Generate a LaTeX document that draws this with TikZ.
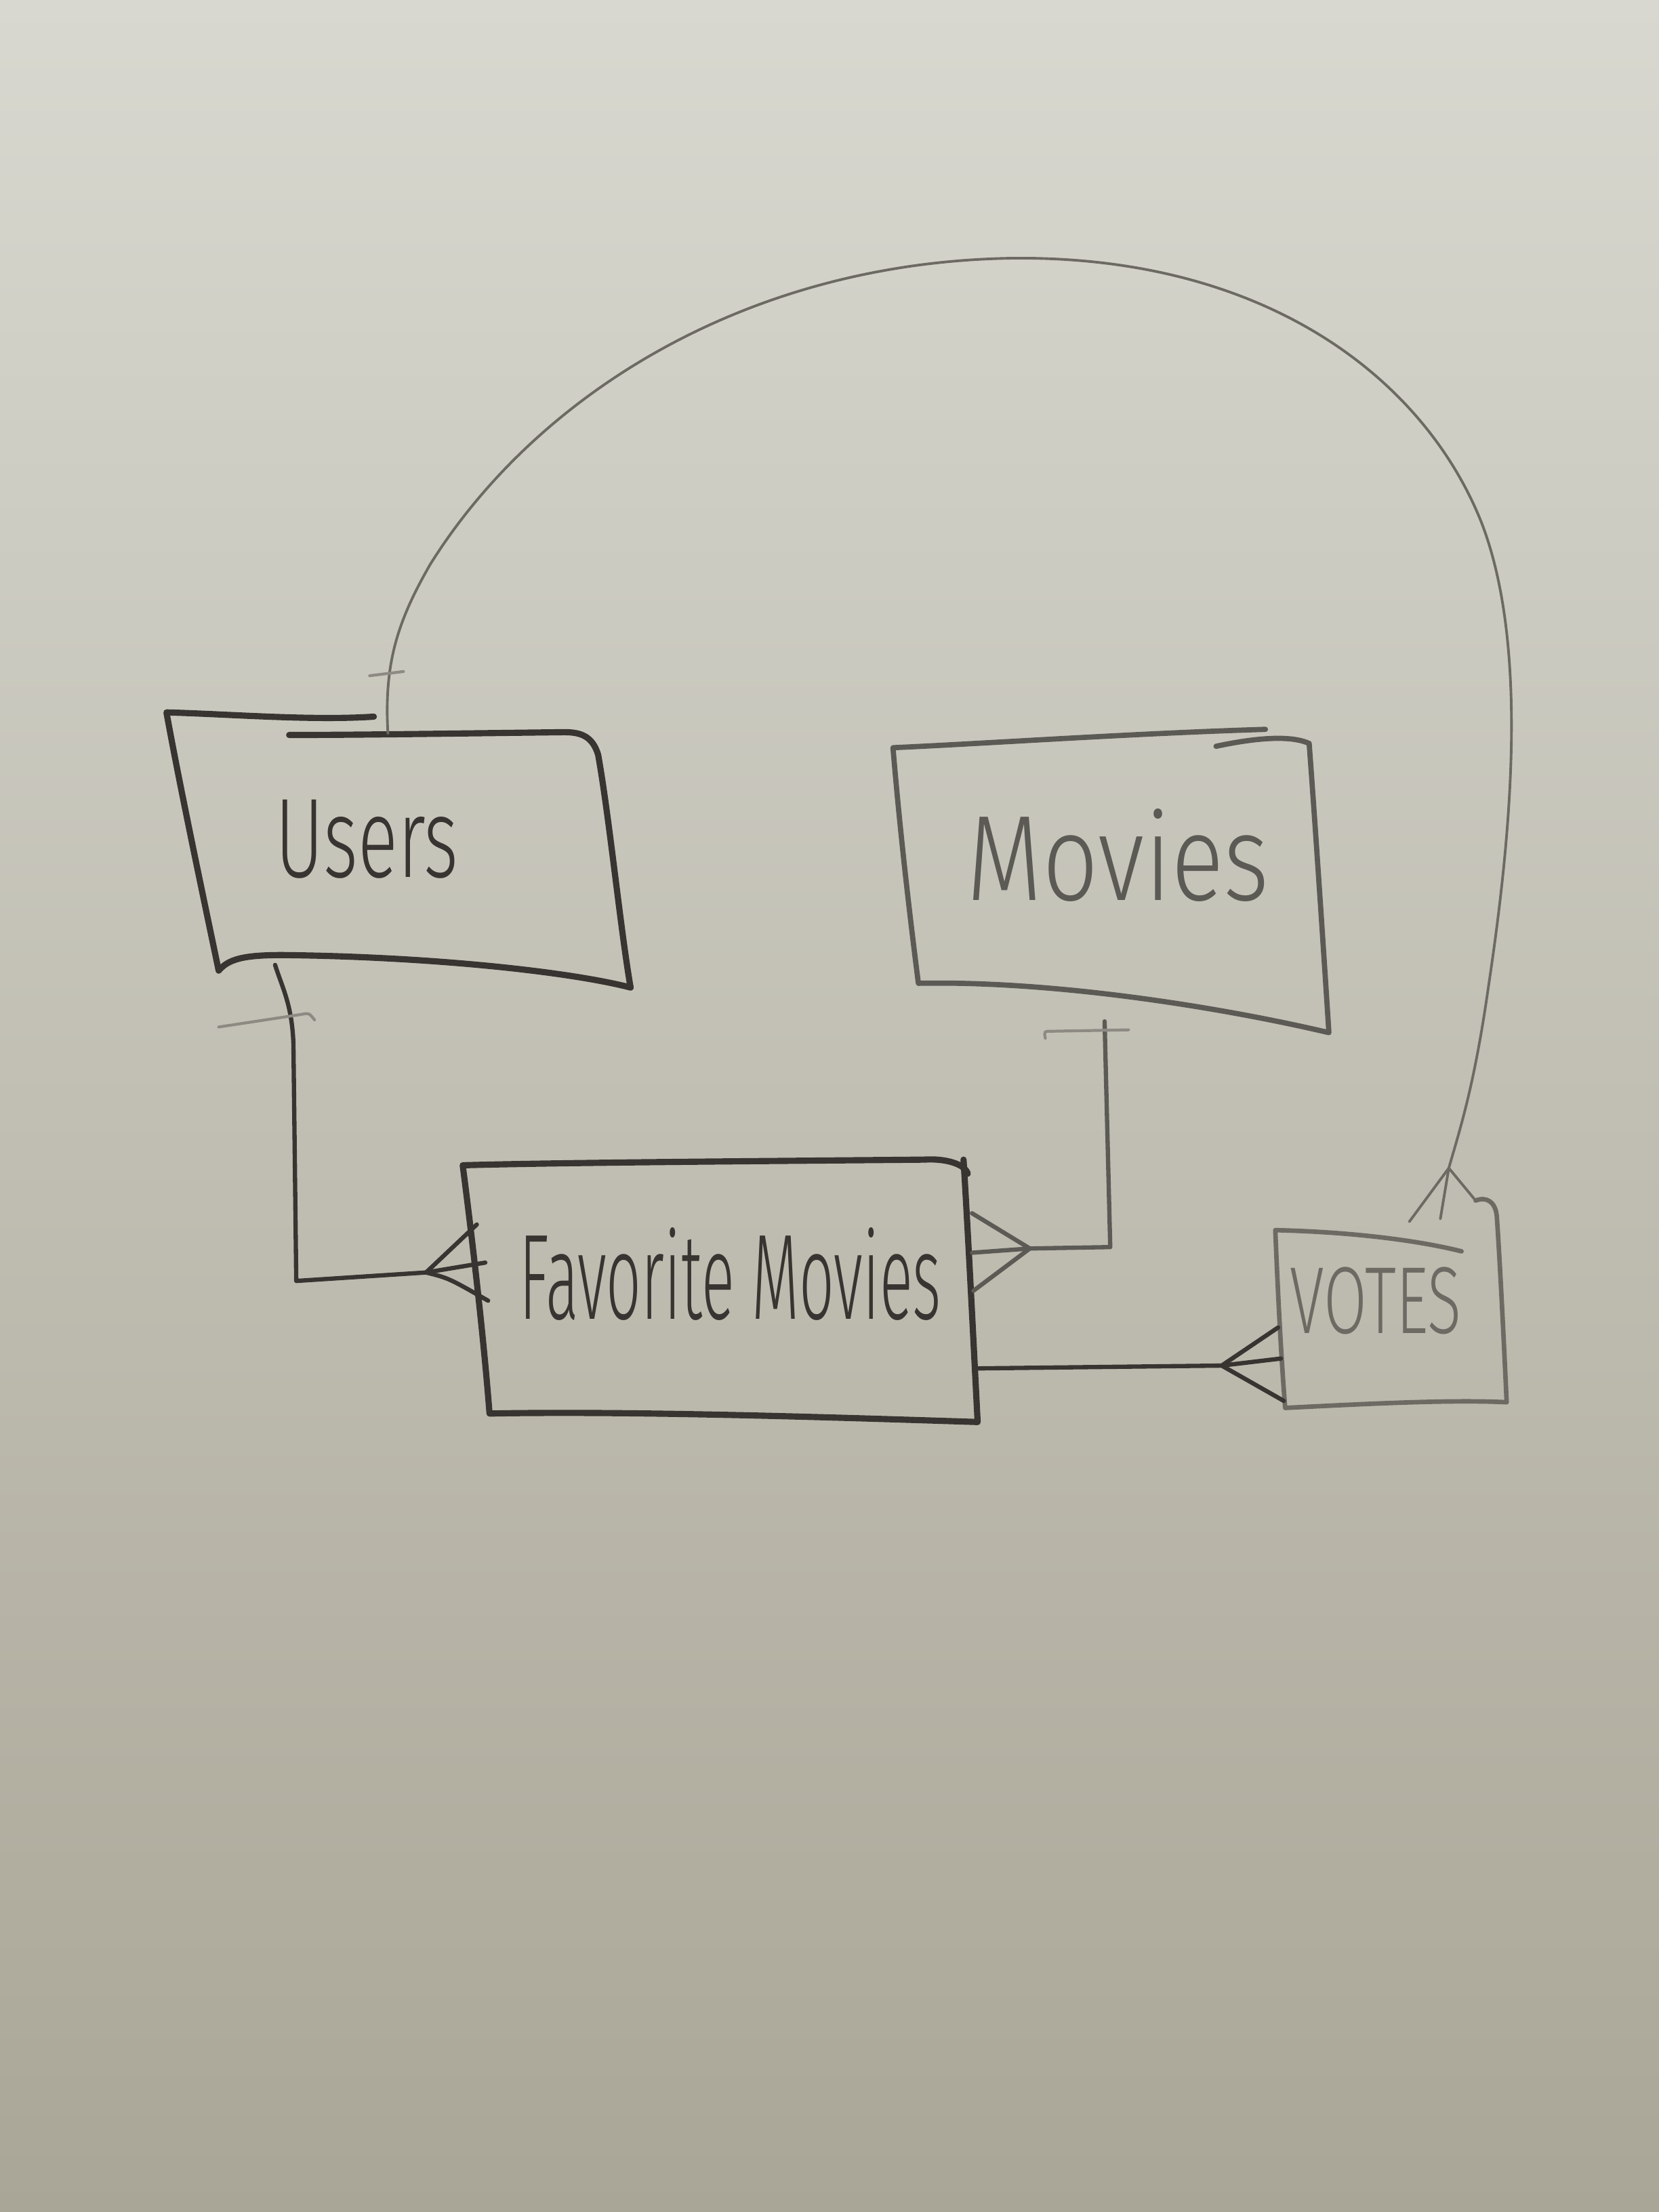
\documentclass[tikz,border=0pt]{standalone}
\usepackage{fontspec}
\usepackage{graphicx}
\newfontfamily\hand{Fira Sans}[UprightFont=* Light]
\definecolor{bgtop}{RGB}{216,216,208}
\definecolor{bgmid}{RGB}{201,200,189}
\definecolor{bgbot}{RGB}{170,166,151}
\definecolor{inkdark}{RGB}{55,52,49}
\definecolor{inkmid}{RGB}{92,90,85}
\definecolor{inklight}{RGB}{108,106,99}
\definecolor{inkfaint}{RGB}{140,138,130}
\begin{document}
\begin{tikzpicture}[x=0.020816cm,y=-0.020816cm,
  boxA/.style={draw=inkdark, line width=2.6pt, line cap=round, line join=round},
  boxB/.style={draw=inkmid, line width=2.2pt, line cap=round, line join=round},
  boxC/.style={draw=inklight, line width=1.9pt, line cap=round, line join=round},
  link/.style={draw=inkdark, line width=1.8pt, line cap=round, line join=round},
  linkB/.style={draw=inkmid, line width=1.8pt, line cap=round, line join=round},
  arc/.style={draw=inklight, line width=1.1pt, line cap=round, line join=round},
  tick/.style={draw=inkfaint, line width=1.2pt, line cap=round},
  label/.style={inner sep=0pt, font=\hand}]
\useasboundingbox (0,0) rectangle (1176,1568);
\shade[top color=bgtop, middle color=bgmid, bottom color=bgbot] (0,0) rectangle (1176,1568);

% ---------- entity outlines ----------
% Users
\draw[boxA] (265,508) .. controls (220,511) and (160,506) .. (118,505)
  .. controls (128,560) and (145,640) .. (155,688)
  .. controls (162,680) and (172,677) .. (200,677)
  .. controls (300,678) and (400,688) .. (447,700)
  .. controls (440,660) and (432,580) .. (424,535)
  .. controls (420,522) and (412,519) .. (400,519)
  .. controls (320,520) and (250,521) .. (205,521);
% Movies
\draw[boxB] (897,517) .. controls (800,520) and (700,527) .. (633,530)
  .. controls (638,590) and (645,650) .. (651,697)
  .. controls (750,695) and (870,715) .. (942,732)
  .. controls (938,670) and (932,580) .. (928,527)
  .. controls (915,521) and (890,523) .. (862,529);
% Favorite Movies
\draw[boxA] (686,832) .. controls (684,825) and (670,821) .. (655,822)
  .. controls (550,823) and (400,824) .. (328,826)
  .. controls (335,880) and (343,950) .. (347,1002)
  .. controls (450,1000) and (600,1005) .. (693,1008)
  .. controls (690,950) and (686,870) .. (683,822);
% Votes
\draw[boxC] (1036,887) .. controls (1000,878) and (950,873) .. (904,872)
  .. controls (906,920) and (908,960) .. (911,998)
  .. controls (970,995) and (1030,992) .. (1068,994)
  .. controls (1066,950) and (1063,890) .. (1061,862)
  .. controls (1060,852) and (1054,848) .. (1046,851);

% ---------- labels ----------
\node[label, text=inkdark, anchor=base west] (users) at (195,622)
  {\resizebox{76.8pt}{32.5pt}{Users}};
\node[label, text=inkmid, anchor=base west] (movies) at (685,638)
  {\resizebox{127pt}{38.4pt}{Movies}};
\node[label, text=inkdark, anchor=base west] (fav) at (368,935)
  {\resizebox{177pt}{38.4pt}{Favorite Movies}};
\node[label, text=inklight, anchor=base west] (votes) at (914,945)
  {\resizebox{72pt}{27.8pt}{VOTES}};

% ---------- connection points ----------
\coordinate (usersTop) at (275,520);
\coordinate (usersBot) at (195,684);
\coordinate (moviesBot) at (783,724);
\coordinate (favL) at (302,902);
\coordinate (favR) at (730,885);
\coordinate (favRlow) at (693,970);
\coordinate (votesL) at (866,968);
\coordinate (votesTop) at (1027,828);

% Users -> Favorite Movies (one to many)
\draw[link] (usersBot) .. controls (200,700) and (207,712) .. (208,740)
  -- (210,908) -- (favL) -- (344,895);
\draw[link] (favL) -- (338,868);
\draw[link] (favL) .. controls (318,906) .. (346,922);
\draw[tick] (155,728) -- (214,719) .. controls (219,718) .. (223,723);

% Movies -> Favorite Movies (one to many)
\draw[linkB] (moviesBot) -- (787,884) -- (favR) -- (689,888);
\draw[linkB] (favR) -- (689,860);
\draw[linkB] (favR) -- (690,915);
\draw[tick] (741,736) .. controls (740,731) .. (746,731) -- (800,730);

% Favorite Movies -> Votes (one to many)
\draw[link] (favRlow) -- (votesL) -- (908,963);
\draw[link] (votesL) -- (906,941);
\draw[link] (votesL) -- (910,993);

% Users -> Votes (one to many), long arc over the top
\draw[arc] (usersTop) .. controls (272,470) and (282,440) .. (305,400)
  .. controls (380,280) and (530,185) .. (720,183)
  .. controls (900,182) and (1010,270) .. (1050,370)
  .. controls (1085,460) and (1070,600) .. (1055,700)
  .. controls (1045,770) and (1035,800) .. (votesTop);
\draw[arc] (votesTop) -- (999,866);
\draw[arc] (votesTop) -- (1021,864);
\draw[arc] (votesTop) -- (1046,851);
\draw[tick] (262,479) -- (286,476);
\end{tikzpicture}
\end{document}
